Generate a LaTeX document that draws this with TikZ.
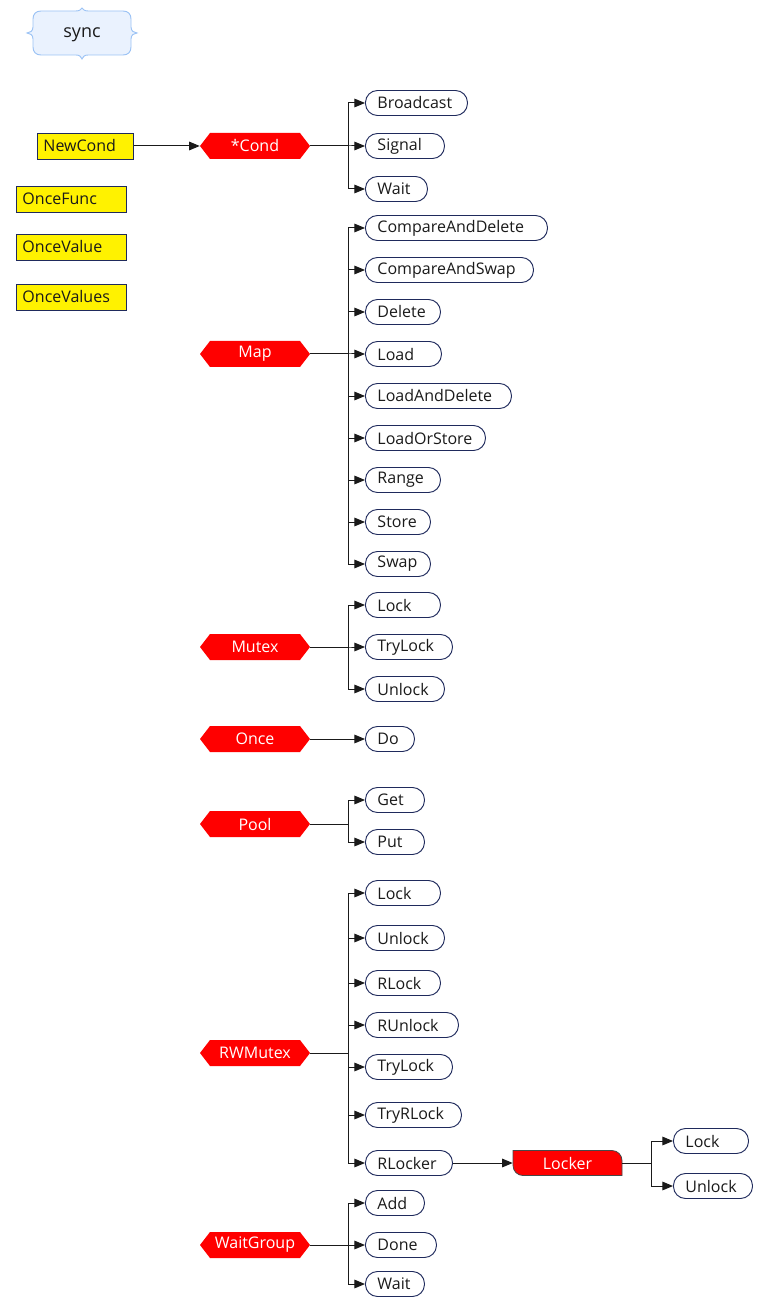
\documentclass[tikz,border=0pt]{standalone}
\usepackage{fontspec}
\setmainfont{Open Sans}
\usetikzlibrary{arrows.meta}
\definecolor{navy}{HTML}{1F2A5C}
\definecolor{syncfill}{HTML}{EAF2FE}
\definecolor{syncdraw}{HTML}{9CC3F5}
\definecolor{ink}{HTML}{1A1A1A}
\tikzset{
  pill/.style={draw=navy, line width=0.7pt, rounded corners=9pt, inner xsep=9pt, inner ysep=0pt,
    minimum height=18.75pt, align=left, anchor=west, text=ink, font=\fontsize{12}{14}\selectfont},
  yel/.style={draw=navy, line width=0.7pt, fill=yellow, anchor=west, inner xsep=4.5pt, inner ysep=0pt,
    minimum height=19.5pt, align=left, text=ink, font=\fontsize{12}{14}\selectfont},
  hexlabel/.style={minimum width=82.5pt, minimum height=19.5pt, inner sep=0pt, text=white,
    font=\fontsize{12}{14}\selectfont},
  hexfill/.style={fill=red},
  arr/.style={draw=ink, line width=0.75pt, -{Triangle[length=8pt,width=6.5pt]}},
}
\newcommand\pl[5]{% name, left, y, right, text
  \pgfmathsetmacro\pw{(#4-#2)*0.75-18}
  \node[pill, text width=\pw pt] (#1) at (#2,#3) {#5};}
\newcommand\hexn[3]{% name, y, text
  \fill[hexfill] (200,#2) -- (210,#2-13) -- (300,#2-13) -- (310,#2) -- (300,#2+13) -- (210,#2+13) -- cycle;
  \node[hexlabel] (#1) at (255,#2) {#3};}
\begin{document}
\begin{tikzpicture}[x=0.75pt,y=-0.75pt]
\useasboundingbox (0,0) rectangle (775,1308);
% sync
\draw[fill=syncfill, draw=syncdraw, line width=0.7pt]
 (41,11) -- (76,11) .. controls (80,11) and (81,9) .. (82,8) .. controls (83,9) and (84,11) .. (88,11)
 -- (123,11) .. controls (128,11) and (131,14) .. (131,19) -- (131,27)
 .. controls (131,31) and (134,33) .. (137,33) .. controls (134,33) and (131,35) .. (131,39)
 -- (131,47) .. controls (131,52) and (128,55) .. (123,55) -- (88,55)
 .. controls (84,55) and (83,57) .. (82,59) .. controls (81,57) and (80,55) .. (76,55)
 -- (41,55) .. controls (36,55) and (33,52) .. (33,47) -- (33,39)
 .. controls (33,35) and (30,33) .. (27,33) .. controls (30,33) and (33,31) .. (33,27)
 -- (33,19) .. controls (33,14) and (36,11) .. (41,11) -- cycle;
\node[text=ink, font=\fontsize{13.5}{16}\selectfont] (sync) at (82,35) {sync};
% yellow functions
\node[yel, minimum width=72pt, text width=63pt] (newcond) at (37,146) {NewCond};
\node[yel, minimum width=82.5pt, text width=73.5pt] (oncefunc) at (16,199) {OnceFunc};
\node[yel, minimum width=82.5pt, text width=73.5pt] (oncevalue) at (16,247) {OnceValue};
\node[yel, minimum width=82.5pt, text width=73.5pt] (oncevalues) at (16,297) {OnceValues};
% types
\hexn{cond}{146}{*Cond}
\hexn{map}{354}{Map}
\hexn{mutex}{647}{Mutex}
\hexn{once}{739}{Once}
\hexn{pool}{824}{Pool}
\hexn{rwmutex}{1053}{RWMutex}
\hexn{waitgroup}{1245}{WaitGroup}
% Cond methods
\pl{c1}{365}{103}{467}{Broadcast}
\pl{c2}{365}{146}{444}{Signal}
\pl{c3}{365}{189}{427}{Wait}
% Map methods
\pl{m1}{365}{228}{547}{CompareAndDelete}
\pl{m2}{365}{270}{533}{CompareAndSwap}
\pl{m3}{365}{312}{440}{Delete}
\pl{m4}{365}{354}{441}{Load}
\pl{m5}{365}{396}{511}{LoadAndDelete}
\pl{m6}{365}{438}{485}{LoadOrStore}
\pl{m7}{365}{480}{440}{Range}
\pl{m8}{365}{522}{430}{Store}
\pl{m9}{365}{564}{430}{Swap}
% Mutex
\pl{x1}{365}{605}{440}{Lock}
\pl{x2}{365}{647}{452}{TryLock}
\pl{x3}{365}{689}{444}{Unlock}
% Once
\pl{o1}{365}{739}{414}{Do}
% Pool
\pl{p1}{365}{800}{424}{Get}
\pl{p2}{365}{842}{424}{Put}
% RWMutex
\pl{r1}{365}{893}{440}{Lock}
\pl{r2}{365}{938}{444}{Unlock}
\pl{r3}{365}{983}{440}{RLock}
\pl{r4}{365}{1025}{458}{RUnlock}
\pl{r5}{365}{1067}{452}{TryLock}
\pl{r6}{365}{1115}{461}{TryRLock}
\pl{r7}{365}{1163}{452}{RLocker}
% Locker
\draw[fill=red, draw=ink!80, line width=0.6pt]
 (513,1150.5) -- (612,1150.5) .. controls (617.5,1150.5) and (622,1155) .. (622,1160.5) -- (622,1175.5)
 -- (523,1175.5) .. controls (517.5,1175.5) and (513,1171) .. (513,1165.5) -- cycle;
\node[text=white, font=\fontsize{12}{14}\selectfont, minimum width=81.75pt, minimum height=18.75pt, inner sep=0pt] (locker) at (567.5,1163) {Locker};
\pl{l1}{673}{1141}{748}{Lock}
\pl{l2}{673}{1186}{752}{Unlock}
% WaitGroup
\pl{w1}{365}{1203}{424}{Add}
\pl{w2}{365}{1245}{436}{Done}
\pl{w3}{365}{1284}{424}{Wait}
% connectors
\draw[arr] (newcond.east) -- (cond.west);
\foreach \c in {c1,c2,c3} \draw[arr] (cond.east) -- ++(38,0) |- (\c.west);
\foreach \c in {m1,m2,m3,m4,m5,m6,m7,m8,m9} \draw[arr] (map.east) -- ++(38,0) |- (\c.west);
\foreach \c in {x1,x2,x3} \draw[arr] (mutex.east) -- ++(38,0) |- (\c.west);
\draw[arr] (once.east) -- (o1.west);
\foreach \c in {p1,p2} \draw[arr] (pool.east) -- ++(38,0) |- (\c.west);
\foreach \c in {r1,r2,r3,r4,r5,r6,r7} \draw[arr] (rwmutex.east) -- ++(38,0) |- (\c.west);
\draw[arr] (r7.east) -- (locker.west);
\foreach \c in {l1,l2} \draw[arr] (locker.east) -- ++(29,0) |- (\c.west);
\foreach \c in {w1,w2,w3} \draw[arr] (waitgroup.east) -- ++(38,0) |- (\c.west);
\end{tikzpicture}
\end{document}
